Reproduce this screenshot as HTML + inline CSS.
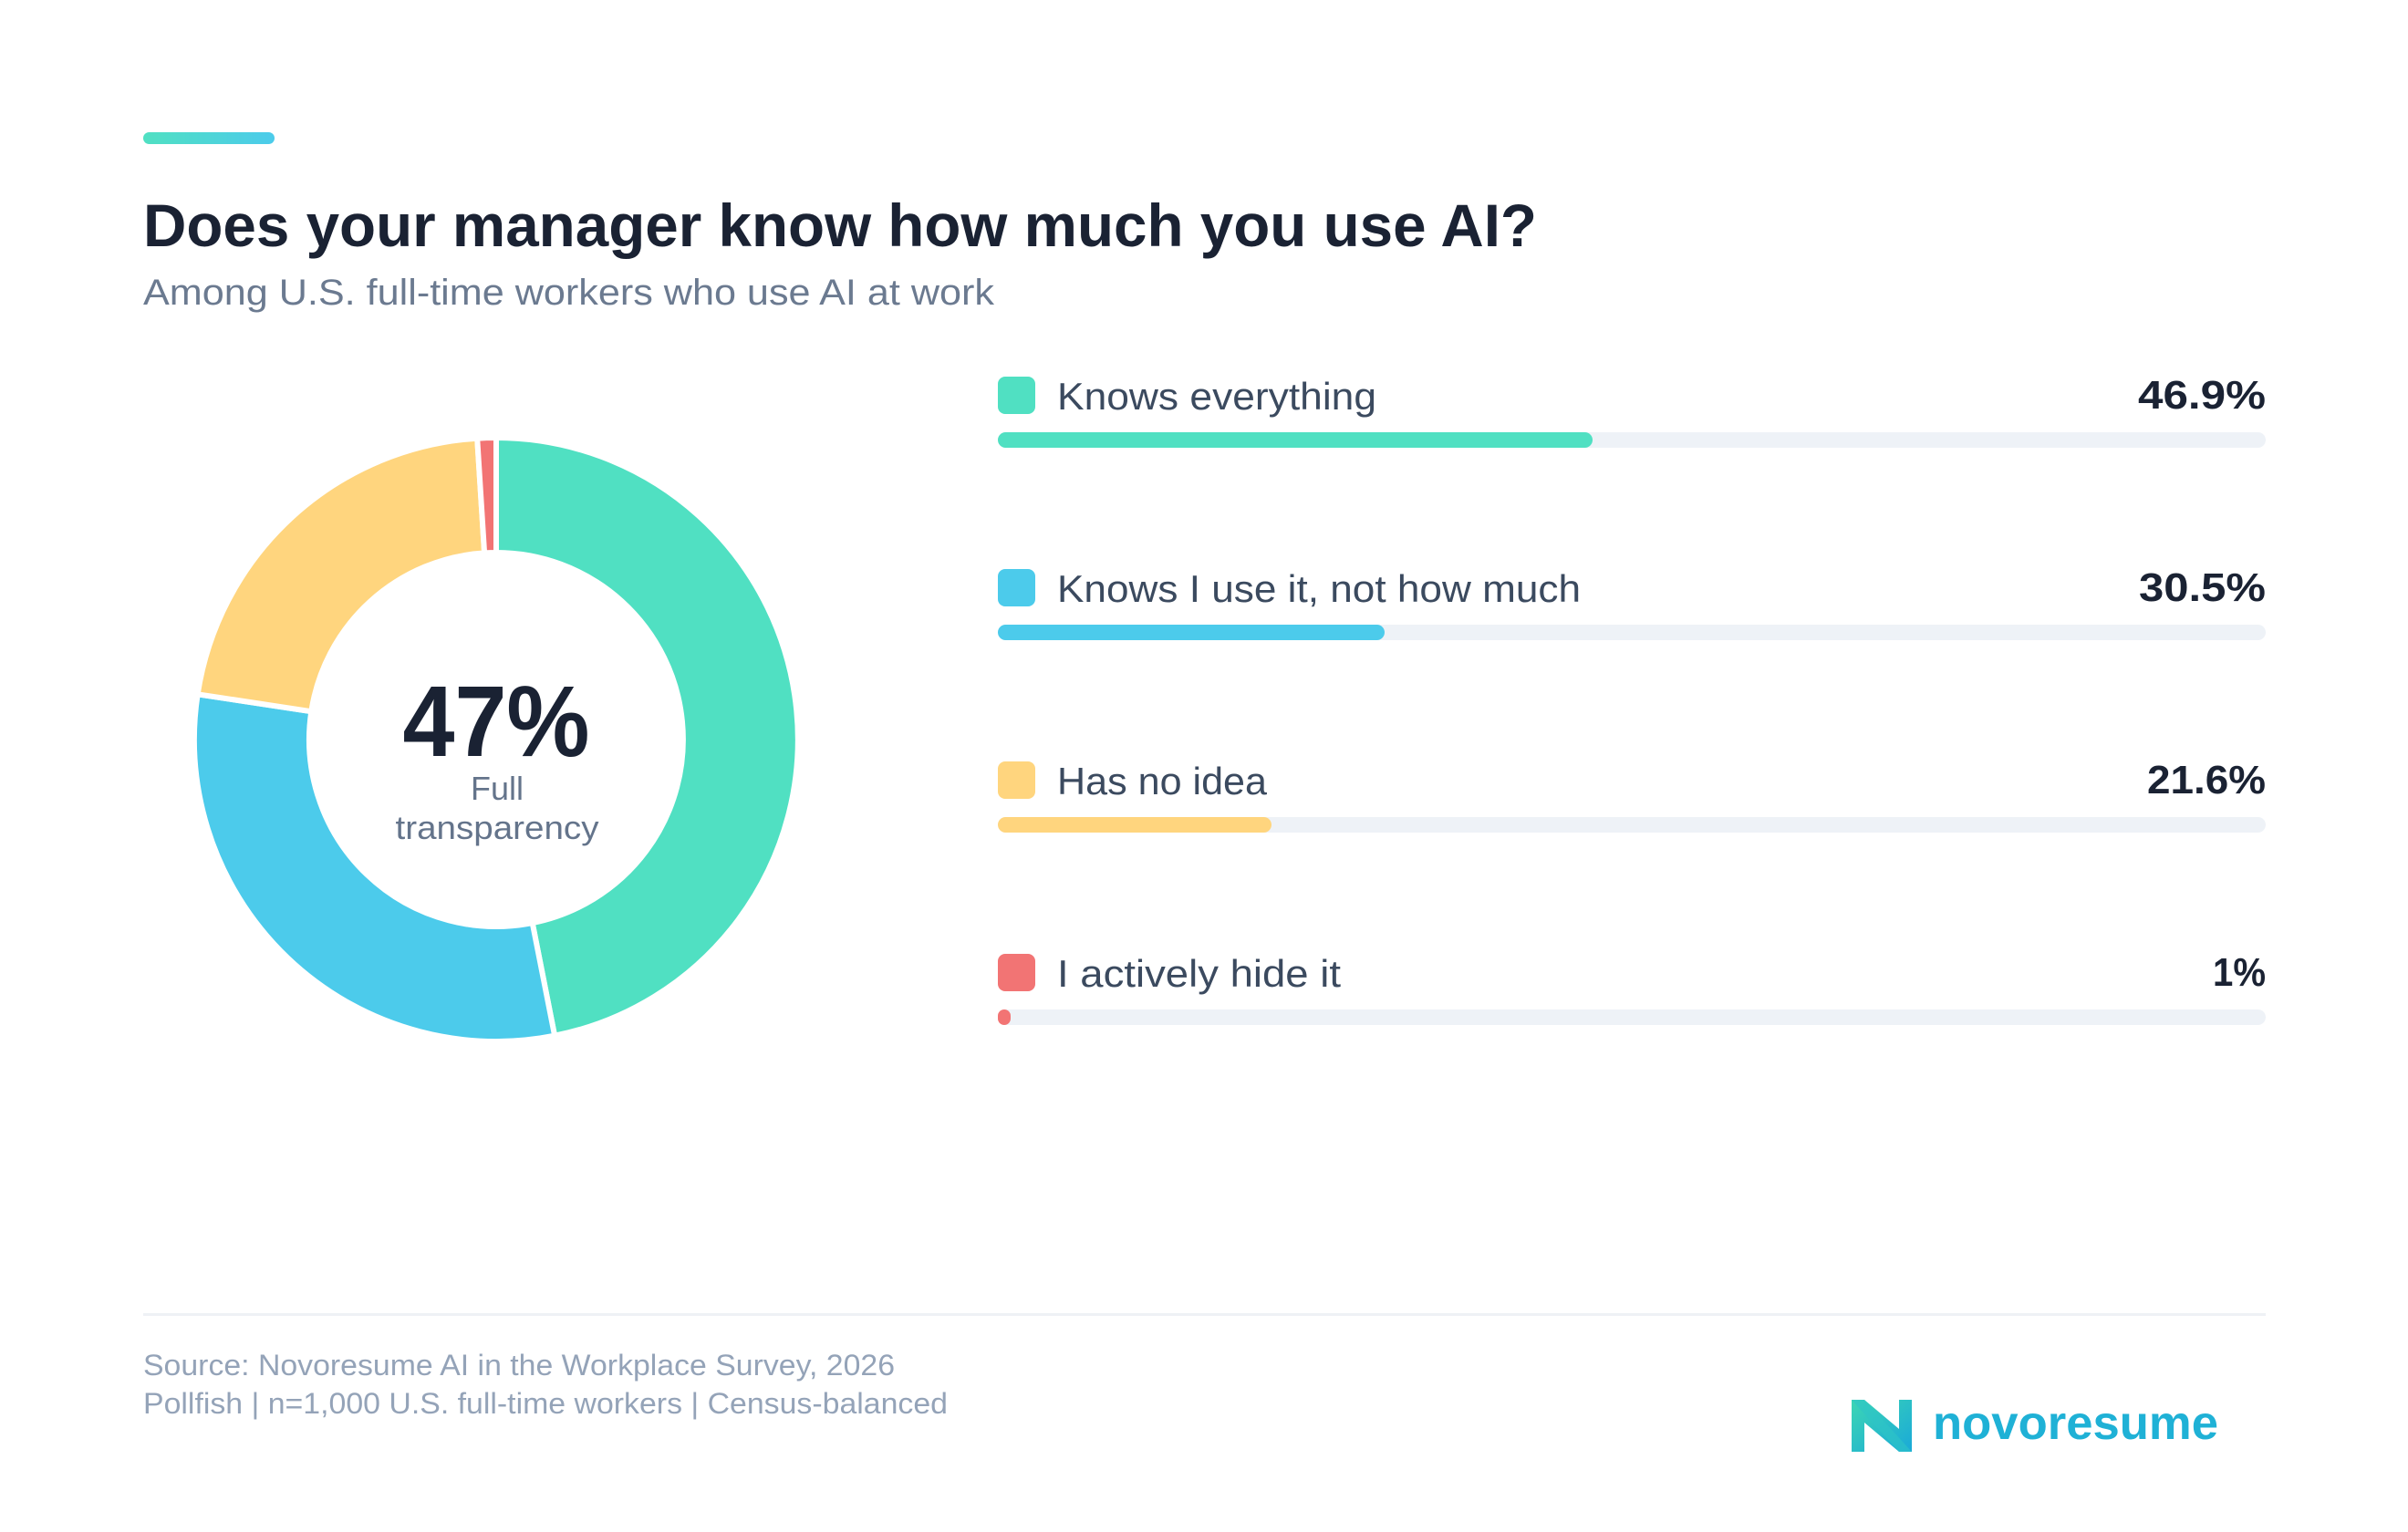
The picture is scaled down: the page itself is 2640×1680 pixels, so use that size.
<!DOCTYPE html>
<html><head><meta charset="utf-8"><style>html,body{margin:0;padding:0;background:#fff}svg{display:block}</style></head>
<body>
<svg width="2640" height="1680" viewBox="0 0 2640 1680" xmlns="http://www.w3.org/2000/svg" font-family="Liberation Sans, sans-serif">
<defs>
<linearGradient id="acc" x1="0" x2="1" y1="0" y2="0"><stop offset="0" stop-color="#50e0c2"/><stop offset="1" stop-color="#4ccbeb"/></linearGradient>
<linearGradient id="logo" x1="0" x2="1" y1="0" y2="1"><stop offset="0" stop-color="#3cd6b4"/><stop offset="1" stop-color="#1aa9d8"/></linearGradient>
</defs>
<rect width="2640" height="1680" fill="#fff"/>
<rect x="157" y="145" width="144" height="13" rx="6.5" fill="url(#acc)"/>
<text x="157" y="270" font-size="66" font-weight="bold" fill="#1a2233" textLength="1528" lengthAdjust="spacingAndGlyphs">Does your manager know how much you use AI?</text>
<text x="157" y="334" font-size="40" fill="#6b7a90" textLength="933" lengthAdjust="spacingAndGlyphs">Among U.S. full-time workers who use AI at work</text>

<g transform="translate(-3,-1)">
<g stroke="#fff" stroke-width="6" stroke-linejoin="miter">
<path d="M547 481 A331 331 0 0 1 611.1 1136.7 L586.7 1013.1 A205 205 0 0 0 547 607 Z" fill="#50e0c2"/>
<path d="M611.1 1136.7 A331 331 0 0 1 219.7 762.3 L344.3 781.2 A205 205 0 0 0 586.7 1013.1 Z" fill="#4ccbeb"/>
<path d="M219.7 762.3 A331 331 0 0 1 526.2 481.7 L534.1 607.4 A205 205 0 0 0 344.3 781.2 Z" fill="#ffd57e"/>
<path d="M526.2 481.7 A331 331 0 0 1 547 481 L547 607 A205 205 0 0 0 534.1 607.4 Z" fill="#f27474"/>
</g>
<text x="547" y="830" font-size="110" font-weight="bold" fill="#1a2233" text-anchor="middle" textLength="205" lengthAdjust="spacingAndGlyphs">47%</text>
<text x="548" y="878" font-size="36" fill="#64748b" text-anchor="middle" textLength="58" lengthAdjust="spacingAndGlyphs">Full</text>
<text x="548" y="921" font-size="36" fill="#64748b" text-anchor="middle" textLength="223" lengthAdjust="spacingAndGlyphs">transparency</text>
</g>

<g transform="translate(0,-3)">
<g>
<rect x="1094" y="416" width="41" height="41" rx="8" fill="#50e0c2"/>
<text x="1159" y="452" font-size="42" fill="#3b4a5f" textLength="350" lengthAdjust="spacingAndGlyphs">Knows everything</text>
<text x="2484" y="451" font-size="44" font-weight="bold" fill="#1a2233" text-anchor="end" textLength="140" lengthAdjust="spacingAndGlyphs">46.9%</text>
<rect x="1094" y="477" width="1390" height="17" rx="8.5" fill="#eef2f7"/>
<rect x="1094" y="477" width="652" height="17" rx="8.5" fill="#50e0c2"/>
</g>
<g transform="translate(0,211)">
<rect x="1094" y="416" width="41" height="41" rx="8" fill="#4ccbeb"/>
<text x="1159" y="452" font-size="42" fill="#3b4a5f" textLength="574" lengthAdjust="spacingAndGlyphs">Knows I use it, not how much</text>
<text x="2484" y="451" font-size="44" font-weight="bold" fill="#1a2233" text-anchor="end" textLength="139" lengthAdjust="spacingAndGlyphs">30.5%</text>
<rect x="1094" y="477" width="1390" height="17" rx="8.5" fill="#eef2f7"/>
<rect x="1094" y="477" width="424" height="17" rx="8.5" fill="#4ccbeb"/>
</g>
<g transform="translate(0,422)">
<rect x="1094" y="416" width="41" height="41" rx="8" fill="#ffd57e"/>
<text x="1159" y="452" font-size="42" fill="#3b4a5f" textLength="230" lengthAdjust="spacingAndGlyphs">Has no idea</text>
<text x="2484" y="451" font-size="44" font-weight="bold" fill="#1a2233" text-anchor="end" textLength="130" lengthAdjust="spacingAndGlyphs">21.6%</text>
<rect x="1094" y="477" width="1390" height="17" rx="8.5" fill="#eef2f7"/>
<rect x="1094" y="477" width="300" height="17" rx="8.5" fill="#ffd57e"/>
</g>
<g transform="translate(0,633)">
<rect x="1094" y="416" width="41" height="41" rx="8" fill="#f27474"/>
<text x="1159" y="452" font-size="42" fill="#3b4a5f" textLength="311" lengthAdjust="spacingAndGlyphs">I actively hide it</text>
<text x="2484" y="451" font-size="44" font-weight="bold" fill="#1a2233" text-anchor="end" textLength="58" lengthAdjust="spacingAndGlyphs">1%</text>
<rect x="1094" y="477" width="1390" height="17" rx="8.5" fill="#eef2f7"/>
<rect x="1094" y="477" width="14" height="17" rx="7" fill="#f27474"/>
</g>
</g>

<rect x="157" y="1440" width="2327" height="3" fill="#eef1f5"/>
<text x="157" y="1508" font-size="32" fill="#94a3b8" textLength="824" lengthAdjust="spacingAndGlyphs">Source: Novoresume AI in the Workplace Survey, 2026</text>
<text x="157" y="1550" font-size="32" fill="#94a3b8" textLength="882" lengthAdjust="spacingAndGlyphs">Pollfish | n=1,000 U.S. full-time workers | Census-balanced</text>

<g transform="translate(-10,-8)">
<path d="M2040 1543 L2054 1543 L2092 1575 L2092 1543 L2106 1543 L2106 1600 L2092 1600 L2054 1568 L2054 1600 L2040 1600 Z" fill="url(#logo)"/>
<path d="M2040 1543 L2054 1543 L2106 1600 L2092 1600 Z" fill="#2fc4c6" opacity="0.6"/>
<text x="2129" y="1586" font-size="52" font-weight="bold" fill="#1fb1d6" textLength="313" lengthAdjust="spacingAndGlyphs">novoresume</text>
</g>
</svg>
</body></html>
